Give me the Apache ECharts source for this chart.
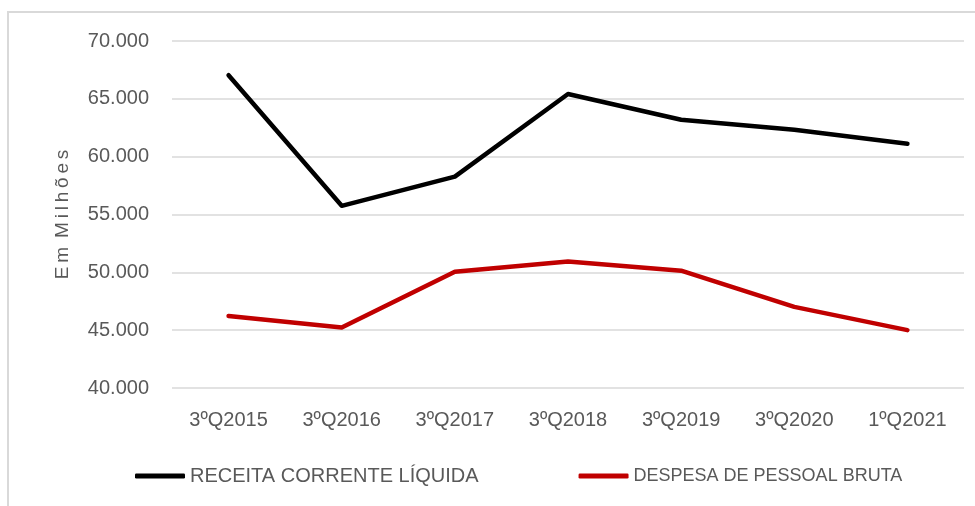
<!DOCTYPE html>
<html>
<head>
<meta charset="utf-8">
<script src="https://cdn.jsdelivr.net/npm/echarts@6/dist/echarts.min.js"></script>
<style>
  html, body { margin: 0; padding: 0; background: #fff; }
  #chart { width: 975px; height: 506px; }
</style>
</head>
<body>
<div id="chart"></div>
<script>
var categories = ['3ºQ2015', '3ºQ2016', '3ºQ2017', '3ºQ2018', '3ºQ2019', '3ºQ2020', '1ºQ2021'];
var receita = [67040, 55750, 58280, 65420, 63190, 62320, 61110];
var despesa = [46230, 45230, 50050, 50930, 50140, 47010, 45000];
var yTicks = [40000, 45000, 50000, 55000, 60000, 65000, 70000];

var textFont = 'Liberation Sans, sans-serif';

function fmt(v) {
	return String(v).replace(/\B(?=(\d{3})+(?!\d))/g, '.');
}

var myChart = echarts.init(document.getElementById('chart'), null, { renderer: 'canvas' });

var option = {
	animation: false,
	backgroundColor: '#fff',
	graphic: [{
		type: 'polyline',
		shape: { points: [[8, 506], [8, 12], [975, 12]] },
		style: { stroke: '#d9d9d9', lineWidth: 2, fill: null },
		silent: true
	}],
	grid: { left: 172, right: 11, top: 41, bottom: 118 },
	legend: {
		top: 461,
		left: 130,
		itemWidth: 50,
		itemHeight: 5,
		itemGap: 100,
		icon: 'roundRect',
		textStyle: { color: '#595959', fontSize: 19, fontFamily: textFont },
		data: [
			{ name: 'RECEITA CORRENTE LÍQUIDA', textStyle: { fontSize: 20 } },
			{ name: 'DESPESA DE PESSOAL BRUTA', textStyle: { fontSize: 18 } }
		]
	},
	xAxis: {
		type: 'category',
		data: categories,
		axisLine: { show: false },
		axisTick: { show: false },
		axisLabel: { color: '#595959', fontSize: 20, fontFamily: textFont, margin: 22 }
	},
	yAxis: {
		type: 'value',
		min: yTicks[0],
		max: yTicks[yTicks.length - 1],
		interval: 5000,
		name: 'E\u2009m \u2009M\u2009i\u2009l\u2009h\u2009õ\u2009e\u2009s',
		nameLocation: 'middle',
		nameGap: 100,
		nameTextStyle: { color: '#595959', fontSize: 19, fontFamily: textFont },
		axisLine: { show: false },
		axisTick: { show: false },
		axisLabel: { color: '#595959', fontSize: 20, fontFamily: textFont, margin: 23, formatter: fmt },
		splitLine: { lineStyle: { color: '#d9d9d9', width: 1.5 } }
	},
	series: [
		{
			name: 'RECEITA CORRENTE LÍQUIDA',
			type: 'line',
			data: receita,
			symbol: 'none',
			lineStyle: { color: '#000', width: 4.5, cap: 'round', join: 'round' },
			itemStyle: { color: '#000' }
		},
		{
			name: 'DESPESA DE PESSOAL BRUTA',
			type: 'line',
			data: despesa,
			symbol: 'none',
			lineStyle: { color: '#c00000', width: 4.5, cap: 'round', join: 'round' },
			itemStyle: { color: '#c00000' }
		}
	]
};

myChart.setOption(option);
</script>
</body>
</html>
